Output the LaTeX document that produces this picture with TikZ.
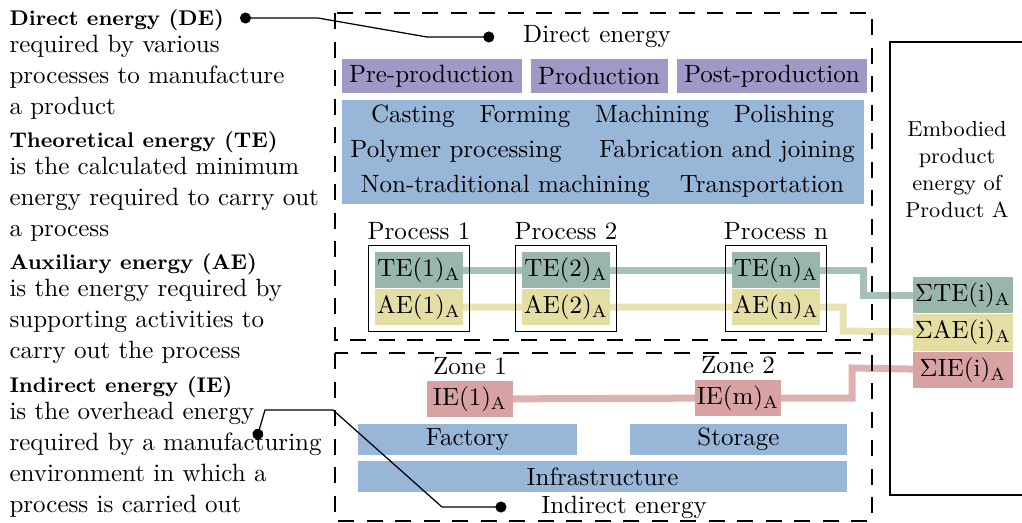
\documentclass[tikz,border=0pt]{standalone}
\usepackage{tikz}
\usetikzlibrary{positioning,fit,backgrounds,arrows.meta}

\definecolor{phasecol}{RGB}{160,152,198}
\definecolor{methodcol}{RGB}{152,182,216}
\definecolor{tecol}{RGB}{152,182,170}
\definecolor{aecol}{RGB}{228,222,164}
\definecolor{iecol}{RGB}{216,162,162}

\tikzset{
  head/.style={anchor=base west, inner sep=0pt, font=\fontsize{8.5}{10}\selectfont\bfseries},
  body/.style={anchor=base west, inner sep=0pt},
  lab/.style={inner sep=0pt},
  zone/.style={draw, line width=0.7pt, dash pattern=on 6.4pt off 5pt},
  phase/.style={fill=phasecol, minimum height=13.6pt, inner xsep=3pt, inner ysep=0pt},
  method/.style={fill=methodcol, inner sep=0pt},
  cell/.style={minimum width=35.2pt, minimum height=14.4pt, inner sep=0pt},
  frame/.style={draw, line width=0.7pt, inner sep=2.4pt},
  sumbox/.style={minimum width=40pt, minimum height=14.6pt, inner sep=0pt},
  flow/.style={line width=2.8pt},
  conn/.style={line width=0.5pt, {Circle[length=4.4pt]}-{Circle[length=4.4pt]}},
}

\begin{document}
\begin{tikzpicture}[x=0.4pt, y=-0.4pt, font=\fontsize{10}{12}\selectfont]
\useasboundingbox (0,0) rectangle (1022,522);

% definitions on the left
\node[head] (dehead) at (9,25) {Direct energy (DE)};
\foreach \txt [count=\i] in {required by various, processes to manufacture, a product}
  \node[body] (dtxt\i) at (9,{52+31*(\i-1)}) {\txt};
\node[head] (tehead) at (9,147) {Theoretical energy (TE)};
\foreach \txt [count=\i] in {is the calculated minimum, energy required to carry out, a process}
  \node[body] (ttxt\i) at (9,{174+31*(\i-1)}) {\txt};
\node[head] (aehead) at (9,269) {Auxiliary energy (AE)};
\foreach \txt [count=\i] in {is the energy required by, supporting activities to, carry out the process}
  \node[body] (atxt\i) at (9,{296+31*(\i-1)}) {\txt};
\node[head] (iehead) at (9,392) {Indirect energy (IE)};
\foreach \txt [count=\i] in {is the overhead energy, required by a manufacturing, environment in which a, process is carried out}
  \node[body] (itxt\i) at (9,{419+31*(\i-1)}) {\txt};

% direct energy
\draw[zone] (335,13) rectangle (872,340);
\node (dilab) at (597,37) {Direct energy};
\node[phase, anchor=west] (pre) at (341,76) {Pre-production};
\node[phase, right=3.2pt of pre] (prod) {Production};
\node[phase, right=3.2pt of prod] (post) {Post-production};
\node[method, anchor=north west, minimum width=208.8pt, minimum height=41.6pt,
      align=center, font=\fontsize{10}{14}\selectfont] (meth) at (341,99)
  {Casting\quad Forming\quad Machining\quad Polishing\\
   Polymer processing\hspace{1.5em}Fabrication and joining\\
   Non-traditional machining\hspace{1.2em}Transportation};

\node[cell, fill=tecol] (te1) at (419,270) {TE(1)$_\mathrm{A}$};
\node[cell, fill=aecol, below=0pt of te1] (ae1) {AE(1)$_\mathrm{A}$};
\node[cell, fill=tecol] (te2) at (566,270) {TE(2)$_\mathrm{A}$};
\node[cell, fill=aecol, below=0pt of te2] (ae2) {AE(2)$_\mathrm{A}$};
\node[cell, fill=tecol] (ten) at (776,270) {TE(n)$_\mathrm{A}$};
\node[cell, fill=aecol, below=0pt of ten] (aen) {AE(n)$_\mathrm{A}$};
\node[frame, fit=(te1)(ae1)] (p1) {};
\node[frame, fit=(te2)(ae2)] (p2) {};
\node[frame, fit=(ten)(aen)] (pn) {};
\node[lab, above=1.8pt of p1] (p1lab) {Process 1};
\node[lab, above=1.8pt of p2] (p2lab) {Process 2};
\node[lab, above=1.8pt of pn] (pnlab) {Process n};

% indirect energy
\draw[zone] (335,353) rectangle (872,521);
\node[cell, fill=iecol, minimum width=34.4pt] (ie1box) at (470,399) {IE(1)$_\mathrm{A}$};
\node[cell, fill=iecol, minimum width=34.4pt] (iembox) at (738,398) {IE(m)$_\mathrm{A}$};
\node[lab, above=2pt of ie1box] (zone1) {Zone 1};
\node[lab, above=2pt of iembox] (zone2) {Zone 2};
\node[method, minimum width=87.6pt, minimum height=12.4pt] (factory) at (467.5,439.5) {Factory};
\node[method, minimum width=86.8pt, minimum height=12.4pt] (storage) at (738.5,439.5) {Storage};
\node[method, minimum width=195.6pt, minimum height=12.4pt] (infra) at (602.5,476.5) {Infrastructure};
\node (indlab) at (624,507) {Indirect energy};

% product
\draw[line width=0.6pt] (1022,42) -| (890,495) -- (1022,495);
\node[align=center, font=\fontsize{8.7}{10.8}\selectfont] (emb) at (957,170)
  {Embodied\\product\\energy of\\Product A};
\node[sumbox, fill=tecol] (sumte) at (963,295) {$\Sigma$TE(i)$_\mathrm{A}$};
\node[sumbox, fill=aecol, below=0pt of sumte] (sumae) {$\Sigma$AE(i)$_\mathrm{A}$};
\node[sumbox, fill=iecol, below=0pt of sumae] (sumie) {$\Sigma$IE(i)$_\mathrm{A}$};

\begin{pgfonlayer}{background}
  \draw[flow, tecol!85!white] (te1.center) -- (ten.center) -| (863,295) -- (sumte.center);
  \draw[flow, aecol!85!white] (ae1.center) -- (aen.center) -| (843,331) -- (sumae.center);
  \draw[flow, iecol!85!white] (ie1box.center) -- (iembox.center) -| (852,368) -- (sumie.center);
\end{pgfonlayer}

% pointers
\coordinate (dedot) at (240,18);
\coordinate (iedot) at (256.3,439.5);
\draw[conn] (dedot) -- (318,18) -- (427,37) -- ([xshift=-8pt]dilab.west);
\draw[conn] (iedot) -- (265,410) -- (333,410) -- (442,507) -- ([xshift=-10.4pt]indlab.west);
\end{tikzpicture}
\end{document}
